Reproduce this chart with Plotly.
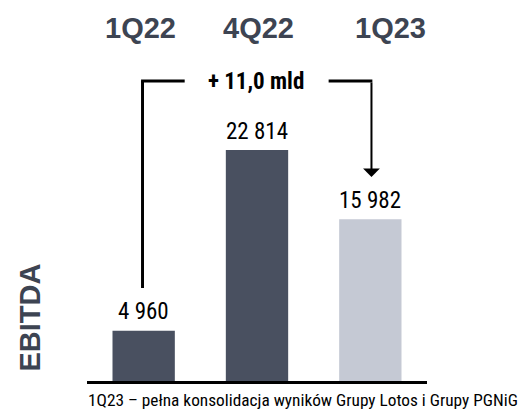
import plotly.graph_objects as go

# ---- data ----
categories = ["1Q22", "4Q22", "1Q23"]
ebitda = [4960, 22814, 15982]
value_labels = ["4 960", "22 814", "15 982"]
change_label = "+ 11,0 mld"
metric_label = "EBITDA"
footnote = "1Q23 – pełna konsolidacja wyników Grupy Lotos i Grupy PGNiG"

DARK = "#495060"
LIGHT = "#C5C9D4"
HEAD = "#3D4452"
bar_colors = [DARK, DARK, LIGHT]

NARROW = "Roboto Condensed, Liberation Sans, Arial, sans-serif"
BOLD = "Liberation Sans, Arial, sans-serif"

OFF = 8  # page body margin
W, H = 526 - OFF, 409 - OFF
ML, MR, MT, MB = 87 - OFF, W - (427 - OFF), 60 - OFF, H - (381 - OFF)
plot_h = H - MT - MB
plot_w = W - ML - MR
YMAX = plot_h / 0.01012

def ypx(p):  # reference pixel row -> data y
    return (H - MB - (p - OFF)) / plot_h * YMAX

def ppx(p):  # reference pixel row -> paper y
    return (H - MB - (p - OFF)) / plot_h

def xpp(p):  # reference pixel col -> paper x
    return ((p - OFF) - ML) / plot_w

fig = go.Figure()
fig.add_trace(go.Bar(
    x=list(range(len(categories))), y=ebitda,
    marker=dict(color=bar_colors, line=dict(width=0)),
    cliponaxis=False, hoverinfo="skip",
))

# value labels above bars
for i, (v, t) in enumerate(zip(ebitda, value_labels)):
    fig.add_annotation(x=i, y=v, xref="x", yref="y", text=t, showarrow=False,
                       yshift=19, xanchor="center", yanchor="middle",
                       font=dict(family=NARROW, size=23, color="#000000"))

# header labels
head_shift = [-3, 1.5, 20.5]
for i, c in enumerate(categories):
    fig.add_annotation(x=i, y=ppx(28), xref="x", yref="paper", text="<b>%s</b>" % c,
                       showarrow=False, xshift=head_shift[i],
                       font=dict(family=BOLD, size=29, color=HEAD),
                       xanchor="center", yanchor="middle")

# bracket
top_y = ypx(81)
lw = 3
fig.add_shape(type="line", xref="x", yref="y", x0=-0.01, x1=-0.01, y0=ypx(288), y1=top_y,
              line=dict(color="black", width=lw))
fig.add_shape(type="line", xref="x", yref="y", x0=-0.023, x1=0.362, y0=top_y, y1=top_y,
              line=dict(color="black", width=lw))
fig.add_shape(type="line", xref="x", yref="y", x0=1.632, x1=2.018, y0=top_y, y1=top_y,
              line=dict(color="black", width=lw))
fig.add_annotation(x=2.01, y=ypx(177), ax=2.01, ay=top_y, xref="x", yref="y",
                   axref="x", ayref="y", text="", showarrow=True,
                   arrowhead=1, arrowsize=1.4, arrowwidth=2, arrowcolor="black")
fig.add_annotation(x=1, y=top_y, xref="x", yref="y", text="<b>%s</b>" % change_label,
                   showarrow=False, xshift=-1,
                   font=dict(family=NARROW, size=23, color="black"),
                   xanchor="center", yanchor="middle")

# EBITDA side label
fig.add_annotation(x=xpp(29.5), y=ppx(318), xref="paper", yref="paper",
                   text="<b>%s</b>" % metric_label, textangle=-90, showarrow=False,
                   font=dict(family=BOLD, size=29, color=HEAD),
                   xanchor="center", yanchor="middle")

# footnote
fig.add_annotation(x=xpp(86), y=ppx(400), xref="paper", yref="paper",
                   text=footnote, showarrow=False,
                   font=dict(family=NARROW, size=17.3, color="#000000"),
                   xanchor="left", yanchor="middle")

fig.update_layout(
    width=W, height=H,
    margin=dict(l=ML, r=MR, t=MT, b=MB, pad=0),
    paper_bgcolor="white", plot_bgcolor="white",
    bargap=0.45, showlegend=False,
    xaxis=dict(range=[-0.5, 2.5], showgrid=False, zeroline=False,
               showticklabels=False, ticks="", showline=True,
               linecolor="black", linewidth=2.5, fixedrange=True),
    yaxis=dict(range=[0, YMAX], visible=False, fixedrange=True),
)

fig.write_html("out.html")
